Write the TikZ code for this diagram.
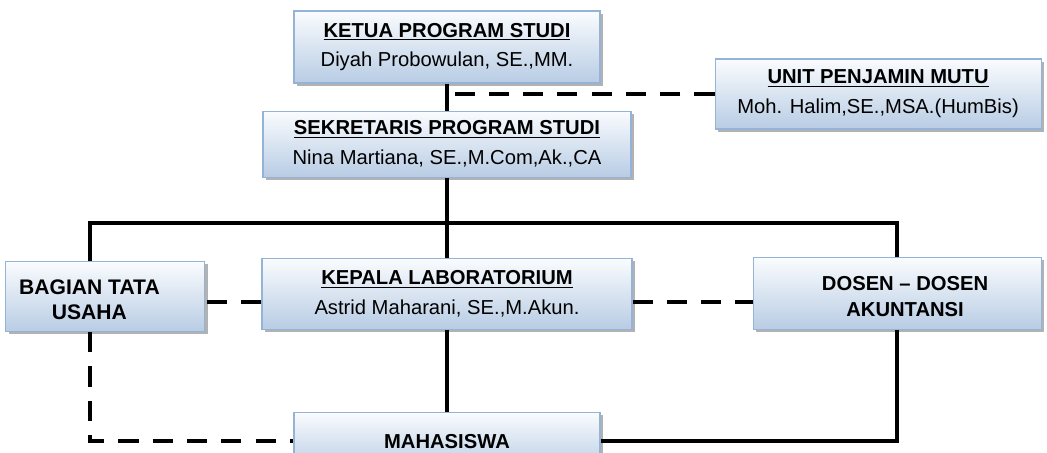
\documentclass[tikz,border=0pt]{standalone}
\usepackage{fontspec}
\setmainfont{Liberation Sans}
\usetikzlibrary{positioning,shadows}
\newcommand{\OrgSize}{0.02}
\definecolor{orgtop}{RGB}{250,252,254}
\definecolor{orgbottom}{RGB}{184,204,228}
\definecolor{orgedge}{RGB}{149,179,215}
\tikzset{
	orgbox/.style={draw=orgedge, line width=0.6pt, top color=orgtop, bottom color=orgbottom,
		inner sep=0pt, align=center, font=\fontsize{11.5}{14.5}\selectfont,
		drop shadow={shadow xshift=1.6pt, shadow yshift=-1.6pt, fill=black, opacity=0.3}},
	orgline/.style={line width=2.3pt},
	orgdash/.style={line width=2.3pt, dash pattern=on 11.5pt off 8pt},
}
\newcommand{\OrgHead}[2]{\underline{\textbf{#1}}\\[2.5pt]#2}

\begin{document}
\begin{tikzpicture}
		\useasboundingbox (0,0) rectangle (\OrgSize*1047, -\OrgSize*452);
		\node[orgbox, minimum width=\OrgSize*306 cm, minimum height=\OrgSize*72 cm] (ketua) at (\OrgSize*447, -\OrgSize*47)
			{\OrgHead{KETUA PROGRAM STUDI}{Diyah Probowulan, SE.,MM.}};
		\node[orgbox, minimum width=\OrgSize*326 cm, minimum height=\OrgSize*70 cm, right=\OrgSize*114 cm of ketua, yshift=-\OrgSize*47 cm] (unit)
			{\OrgHead{UNIT PENJAMIN MUTU}{Moh. Halim,SE.,MSA.(HumBis)}};
		\node[orgbox, minimum width=\OrgSize*368 cm, minimum height=\OrgSize*66 cm, below=\OrgSize*27 cm of ketua] (sekretaris)
			{\OrgHead{SEKRETARIS PROGRAM STUDI}{Nina Martiana, SE.,M.Com,Ak.,CA}};
		\node[orgbox, minimum width=\OrgSize*370 cm, minimum height=\OrgSize*71 cm, below=\OrgSize*80 cm of sekretaris] (kepala)
			{\OrgHead{KEPALA LABORATORIUM}{Astrid Maharani, SE.,M.Akun.}};
		\node[orgbox, minimum width=\OrgSize*199 cm, minimum height=\OrgSize*70 cm, left=\OrgSize*56 cm of kepala, yshift=-\OrgSize*3 cm,
			label={[align=center, font=\fontsize{12}{14.5}\selectfont\bfseries, xshift=-\OrgSize*16 cm, yshift=-\OrgSize*3 cm]center:{BAGIAN TATA\\USAHA}}] (bagian) {};
		\node[orgbox, minimum width=\OrgSize*288 cm, minimum height=\OrgSize*72 cm, right=\OrgSize*120 cm of kepala,
			label={[align=center, font=\fontsize{11.5}{14.5}\selectfont\bfseries, xshift=\OrgSize*8 cm, yshift=-\OrgSize*3 cm]center:{DOSEN -- DOSEN\\AKUNTANSI}}] (dosen) {};
		\node[orgbox, minimum width=\OrgSize*306 cm, minimum height=\OrgSize*58 cm, below=\OrgSize*82 cm of kepala, font=\fontsize{11.5}{14.5}\selectfont\bfseries] (mahasiswa) {MAHASISWA};

		\coordinate[below=\OrgSize*45 cm of sekretaris.south] (bus);
		\coordinate[xshift=-\OrgSize*15 cm] (rail) at (bagian.north);

		\draw[orgline] (ketua.south) -- (sekretaris.north);
		\draw[orgdash] (unit.west) -- (unit.west -| ketua.south);
		\draw[orgline] (sekretaris.south) -- (kepala.north);
		\draw[orgline] (rail) |- (bus) -| (dosen.north);
		\draw[orgdash] ([yshift=-\OrgSize*8 cm]kepala.west) -- ([yshift=-\OrgSize*8 cm]kepala.west -| bagian.east);
		\draw[orgdash] ([yshift=-\OrgSize*8 cm]kepala.east) -- ([yshift=-\OrgSize*8 cm]kepala.east -| dosen.west);
		\draw[orgline] (kepala.south) -- (mahasiswa.north);
		\draw[orgdash] (rail |- bagian.south) |- (mahasiswa.west);
		\draw[orgline] (mahasiswa.east) -| (dosen.south);
	\end{tikzpicture}
\end{document}
